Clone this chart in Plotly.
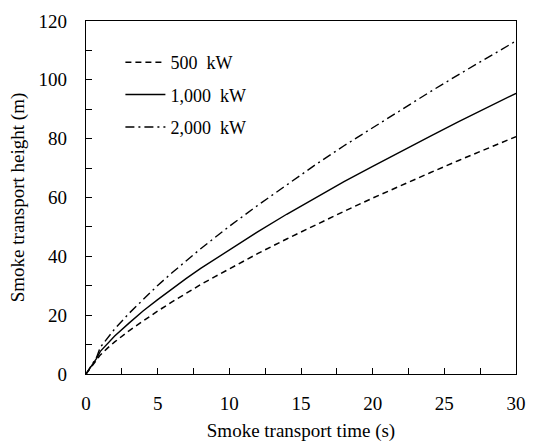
import plotly.graph_objects as go

time_s = [0, 0.25, 0.5, 0.75, 1, 1.5, 2, 3, 4, 5, 6, 7, 8, 9, 10,
          12, 14, 16, 18, 20, 22, 24, 26, 28, 30]
h_500 = [0, 1.7, 3.4, 5.0, 6.5, 8.8, 10.9, 14.7, 18.2, 21.4, 24.5, 27.5, 30.4, 33.1, 35.8,
         41.0, 45.9, 50.7, 55.3, 59.8, 64.2, 68.4, 72.6, 76.7, 80.7]
h_1000 = [0, 1.8, 3.6, 5.4, 7.7, 10.4, 12.9, 17.3, 21.5, 25.3, 29.0, 32.5, 35.9, 39.1, 42.3,
          48.4, 54.3, 59.9, 65.4, 70.6, 75.8, 80.8, 85.8, 90.6, 95.4]
h_2000 = [0, 1.9, 3.8, 5.8, 9.1, 12.3, 15.3, 20.6, 25.5, 30.1, 34.4, 38.6, 42.6, 46.4, 50.2,
          57.4, 64.4, 71.1, 77.6, 83.8, 90.0, 95.9, 101.8, 107.6, 113.2]
names = ["500  kW", "1,000  kW", "2,000  kW"]

font = "'Times New Roman', 'Liberation Serif', 'DejaVu Serif', serif"
fig = go.Figure()
styles = [dict(dash="6px,4px", width=1.5), dict(dash="solid", width=1.4),
          dict(dash="9px,4px,2px,4px", width=1.4)]
for name, ys, st in zip(names, [h_500, h_1000, h_2000], styles):
    fig.add_trace(go.Scatter(x=time_s, y=ys, mode="lines", name=name,
                             legendgroup=name,
                             line=dict(color="black", **st)))

axis_common = dict(showline=True, linecolor="black", linewidth=1.3, mirror=True,
                   ticks="inside", ticklen=6, tickcolor="black", tickwidth=1.2,
                   showgrid=False, zeroline=False,
                   tickfont=dict(family=font, size=19, color="black"))
fig.update_xaxes(range=[0, 30], dtick=5, tick0=0,
                 minor=dict(dtick=2.5, ticks="inside", ticklen=6, tickcolor="black", tickwidth=1.2, showgrid=False),
                 title=dict(text="Smoke transport time (s)", font=dict(family=font, size=19, color="black"), standoff=10),
                 ticklabelstandoff=12, **axis_common)
fig.update_yaxes(range=[0, 120], dtick=20, tick0=0,
                 minor=dict(dtick=10, ticks="inside", ticklen=6, tickcolor="black", tickwidth=1.2, showgrid=False),
                 title=dict(text="Smoke transport height (m)", font=dict(family=font, size=19, color="black"), standoff=8),
                 ticklabelstandoff=14, **axis_common)
fig.update_layout(width=537, height=448, margin=dict(l=86, r=11, t=17, b=73),
                  paper_bgcolor="white", plot_bgcolor="white",
                  font=dict(family=font),
                  legend=dict(x=0.08, y=0.935, xanchor="left", yanchor="top",
                              bgcolor="rgba(0,0,0,0)", itemwidth=40, tracegroupgap=6,
                              font=dict(family=font, size=18, color="black")),
                  showlegend=True)
fig.write_html("out.html")
